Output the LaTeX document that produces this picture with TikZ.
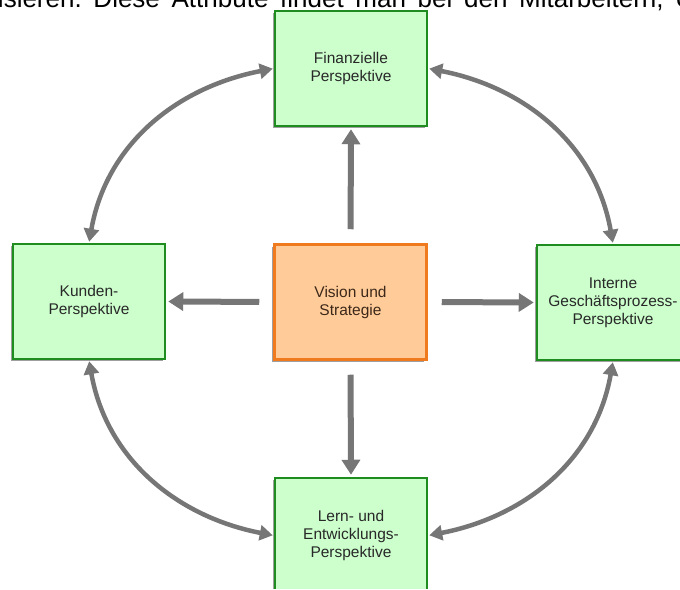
\documentclass[tikz,border=0pt]{standalone}
\usepackage{fontspec}
\setmainfont{Liberation Sans}
\usetikzlibrary{arrows.meta,shadows}
\definecolor{boxgreen}{RGB}{204,255,204}
\definecolor{edgegreen}{RGB}{30,140,30}
\definecolor{boxorange}{RGB}{255,204,153}
\definecolor{edgeorange}{RGB}{240,122,30}
\definecolor{arrowgray}{RGB}{118,118,118}
\definecolor{labeltext}{RGB}{40,40,40}
\definecolor{coretext}{RGB}{60,40,25}
\newcommand{\widespaces}{\spaceskip=11.7pt\relax\xspaceskip=11.7pt\relax}
\begin{document}
\begin{tikzpicture}[x=1pt,y=1pt,
  persp/.style={draw=edgegreen, fill=boxgreen, line width=2.5pt,
    minimum width=152pt, minimum height=115pt, inner sep=2pt,
    align=center, text=labeltext, font=\fontsize{15.5}{18}\selectfont,
    drop shadow={shadow xshift=-2.5pt, shadow yshift=-2.5pt, opacity=0.5, fill=black!75}},
  core/.style={persp, draw=edgeorange, fill=boxorange, text=coretext},
  mainarrow/.style={draw=arrowgray, line width=6pt,
    -{Triangle[width=18pt,length=15pt]}, shorten <=14pt, shorten >=2pt},
  linkarrow/.style={draw=arrowgray, line width=4.5pt,
    {Triangle[width=15pt,length=13pt]}-{Triangle[width=15pt,length=13pt]},
    shorten <=1pt, shorten >=1pt}
]
\useasboundingbox (0,0) rectangle (680,589);
\clip (0,0) rectangle (680,589);

% running text line above the figure (justified, hence the wide spaces)
\node[anchor=base west, inner sep=0pt, text=black,
      font=\fontsize{26}{30}\selectfont] (caption) at (-2.2,581.7)
  {\widespaces isieren. Diese Attribute findet man bei den Mitarbeitern, U};

% the five boxes
\node[persp] (fin)  at (351,520.5) {Finanzielle\\Perspektive};
\node[persp] (kun)  at (89,287.5)  {Kunden-\\Perspektive};
\node[core]  (vis)  at (350.5,287) {Vision und\\Strategie};
\node[persp] (int)  at (613,286.5) {Interne\\Geschäftsprozess-\\Perspektive};
\node[persp] (lern) at (351,53.5)  {Lern- und\\Entwicklungs-\\Perspektive};

% arrows from the centre outwards
\draw[mainarrow] (vis.north) -- (fin.south);
\draw[mainarrow] (vis.west)  -- (kun.east);
\draw[mainarrow] (vis.east)  -- (int.west);
\draw[mainarrow] (vis.south) -- (lern.north);

% curved two-way links around the ring
\draw[linkarrow] (fin.west)  to[out=191, in=80]   (kun.north);
\draw[linkarrow] (fin.east)  to[out=-11, in=100]  (int.north);
\draw[linkarrow] (kun.south) to[out=-80, in=169]  (lern.west);
\draw[linkarrow] (lern.east) to[out=11,  in=-100] (int.south);
\end{tikzpicture}
\end{document}
